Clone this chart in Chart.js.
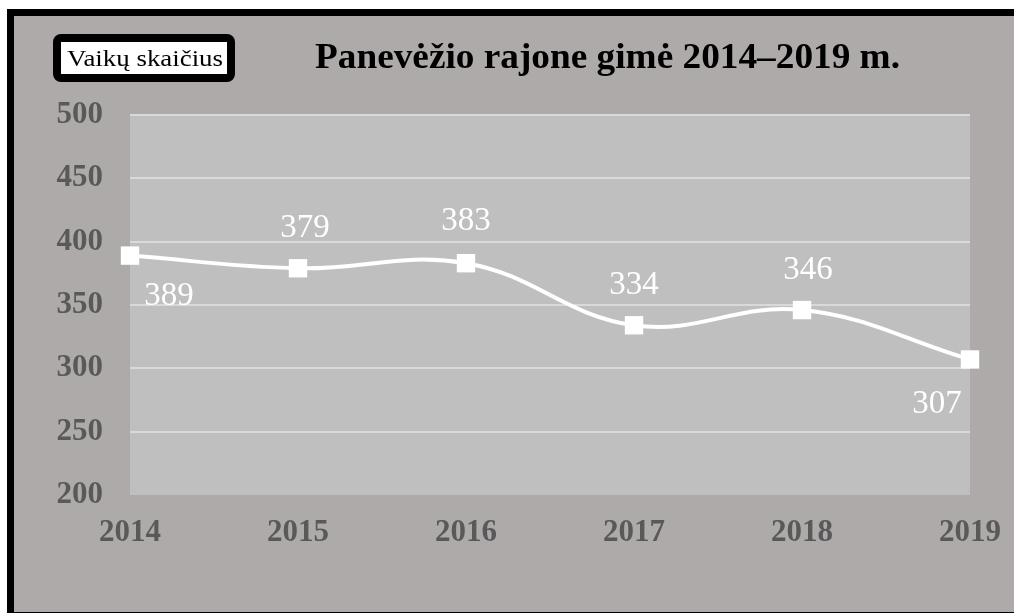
<!DOCTYPE html>
<html>
<head>
<meta charset="utf-8">
<script src="https://cdn.jsdelivr.net/npm/chart.js@4.4.0/dist/chart.umd.min.js"></script>
<style>
  html, body { margin: 0; padding: 0; background: #fff; }
  canvas { display: block; }
</style>
</head>
<body>
<canvas id="lineChart" width="1014" height="613"></canvas>
<script>
// data
var years = ['2014', '2015', '2016', '2017', '2018', '2019'];
var births = [389, 379, 383, 334, 346, 307];
var yMin = 200, yMax = 500, yStep = 50;
var chartTitle = 'Panevėžio rajone gimė 2014–2019 m.';
var axisTitle = 'Vaikų skaičius';

// where each value label sits relative to its point (px)
var labelOffsets = [[39, 41], [7, -40], [0, -42], [0, -40], [6, -40], [-33, 45]];

var serif = "'Liberation Serif', 'Times New Roman', serif";

// text in the original is a bit wider than the font; stretch it to a width
function stretchText(c, txt, x, y, width) {
    var w = c.measureText(txt).width;
    c.save();
    c.translate(x, y);
    c.scale(width / w, 1);
    c.fillText(txt, 0, 0);
    c.restore();
}

// page frame, grey background and plot area
var backdrop = {
    id: 'backdrop',
    beforeDraw: function (chart) {
        var c = chart.ctx, a = chart.chartArea;
        c.save();
        c.fillStyle = '#ffffff';
        c.fillRect(0, 0, chart.width, chart.height);
        c.fillStyle = '#000000';
        c.fillRect(7, 9, chart.width - 7, chart.height - 9);
        c.fillStyle = '#AEAAAA';
        c.fillRect(14, 16, chart.width - 14, chart.height - 17);
        c.fillStyle = '#BFBFBF';
        c.fillRect(a.left, a.top, a.right - a.left, a.bottom - a.top);
        c.restore();
    }
};

// title, boxed axis caption and value labels
var texts = {
    id: 'texts',
    afterDatasetsDraw: function (chart) {
        var c = chart.ctx;
        c.save();
        c.fillStyle = '#ffffff';
        c.font = '33px ' + serif;
        c.textAlign = 'center';
        c.textBaseline = 'middle';
        var pts = chart.getDatasetMeta(0).data;
        pts.forEach(function (p, i) {
            c.fillText(String(births[i]), p.x + labelOffsets[i][0], p.y + labelOffsets[i][1]);
        });

        // title
        c.fillStyle = '#000000';
        c.font = 'bold 35px ' + serif;
        c.textAlign = 'left';
        c.textBaseline = 'alphabetic';
        stretchText(c, chartTitle, 315, 68, 585);

        // caption box
        c.beginPath();
        if (c.roundRect) c.roundRect(57, 38, 174, 40, 4); else c.rect(57, 38, 174, 40);
        c.fillStyle = '#ffffff';
        c.fill();
        c.lineWidth = 8;
        c.strokeStyle = '#000000';
        c.stroke();
        c.fillStyle = '#000000';
        c.font = '24px ' + serif;
        stretchText(c, axisTitle, 67, 66, 156);
        c.restore();
    }
};

var ctx = document.getElementById('lineChart').getContext('2d');
var myChart = new Chart(ctx, {
    type: 'line',
    data: {
        labels: years,
        datasets: [{
            label: axisTitle,
            data: births,
            borderColor: '#ffffff',
            borderWidth: 4,
            tension: 0.4,
            pointStyle: 'rect',
            pointRadius: 13,
            pointBackgroundColor: '#ffffff',
            pointBorderWidth: 0,
            clip: false
        }]
    },
    options: {
        responsive: false,
        animation: false,
        layout: { padding: { top: 115, right: 44, bottom: 0, left: 0 } },
        plugins: {
            legend: { display: false },
            tooltip: { enabled: false },
            title: { display: false }
        },
        scales: {
            x: {
                offset: false,
                grid: { display: false, drawTicks: false },
                border: { display: false },
                ticks: {
                    color: '#595959',
                    padding: 19,
                    maxRotation: 0,
                    font: { family: serif, size: 31, weight: 'bold' }
                },
                afterFit: function (s) {
                    s.height = 118;
                    s.paddingLeft = 0;
                    s.paddingRight = 0;
                }
            },
            y: {
                min: yMin,
                max: yMax,
                grid: {
                    drawTicks: false,
                    lineWidth: 2,
                    color: function (g) { return g.tick && g.tick.value === yMin ? 'rgba(0,0,0,0)' : '#D9D9D9'; }
                },
                border: { display: false },
                ticks: {
                    stepSize: yStep,
                    color: '#595959',
                    padding: 27,
                    font: { family: serif, size: 31, weight: 'bold' }
                },
                afterFit: function (s) { s.width = 130; }
            }
        }
    },
    plugins: [backdrop, texts]
});
</script>
</body>
</html>
